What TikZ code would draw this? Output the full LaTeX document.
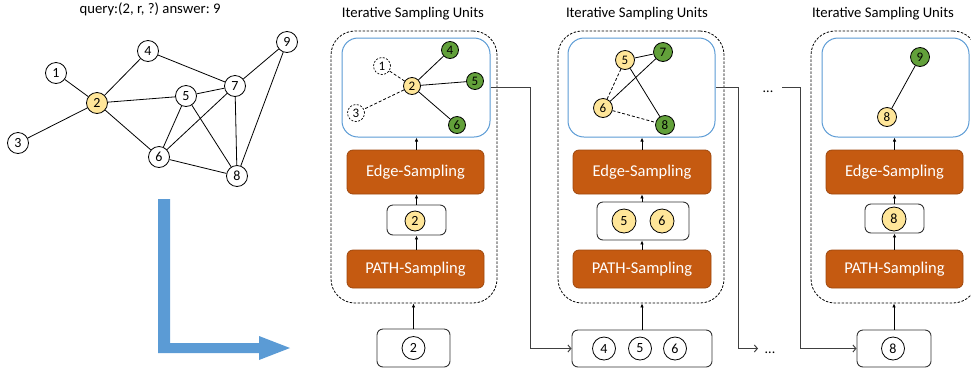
\documentclass[tikz,border=0pt]{standalone}
\usepackage{fontspec}
\setmainfont{Carlito}
\usetikzlibrary{arrows.meta}
\definecolor{nodeyellow}{RGB}{255,230,153}
\definecolor{nodegreen}{RGB}{98,160,58}
\definecolor{boxorange}{RGB}{197,90,17}
\definecolor{boxblue}{RGB}{91,155,213}
\definecolor{linegray}{RGB}{64,64,64}
\begin{document}
\frenchspacing
\begin{tikzpicture}[x=1pt,y=-1pt,
  every node/.style={font=\fontsize{14}{16}\selectfont, inner sep=0pt},
  gnode/.style={circle, draw=black, line width=0.8pt, minimum size=21pt, fill=white},
  snode/.style={circle, draw=black, line width=0.8pt, minimum size=17pt, fill=white, font=\fontsize{13}{15}\selectfont},
  bnode/.style={circle, draw=black, line width=0.8pt, minimum size=23pt, fill=white},
  ylw/.style={fill=nodeyellow},
  grn/.style={fill=nodegreen},
  ghost/.style={circle, draw=black, dashed, dash pattern=on 2pt off 1.5pt, line width=0.7pt, minimum size=17pt, font=\fontsize{13}{15}\selectfont},
  gedge/.style={line width=0.8pt, draw=black},
  dedge/.style={line width=0.8pt, draw=black, dash pattern=on 3pt off 2pt},
  unitbox/.style={draw=black, dash pattern=on 2.5pt off 1.5pt, line width=0.8pt, rounded corners=24pt, minimum width=166pt, minimum height=272pt},
  bluebox/.style={draw=boxblue, line width=1pt, rounded corners=16pt, fill=white},
  orangebox/.style={draw=boxorange!80!black, line width=0.8pt, fill=boxorange, rounded corners=6pt, text=white, font=\fontsize{16.5}{18}\selectfont},
  whitebox/.style={draw=black!80, line width=0.9pt, rounded corners=6pt, fill=white},
  title/.style={font=\fontsize{14.7}{17}\selectfont},
  vup/.style={line width=0.8pt, draw=black, -{Latex[length=4pt,width=3.5pt]}},
  link/.style={line width=1pt, draw=linegray, -{Straight Barb[length=3pt,width=7pt]}},
  plainlink/.style={line width=1pt, draw=linegray}
]
\useasboundingbox (0,0) rectangle (971,373);
\clip (0,0) rectangle (971,373);

% ---------- left graph ----------
\node[title] (query) at (150,9) {query:(2, r, ?) answer: 9};
\node[gnode] (g1) at (56,73) {1};
\node[gnode, ylw] (g2) at (97,103) {2};
\node[gnode] (g3) at (18,143) {3};
\node[gnode] (g4) at (148,51) {4};
\node[gnode] (g5) at (186,96) {5};
\node[gnode] (g6) at (159,157) {6};
\node[gnode] (g7) at (235,86) {7};
\node[gnode] (g8) at (237,176) {8};
\node[gnode] (g9) at (287,42) {9};
\foreach \a/\b in {g1/g2, g3/g2, g2/g4, g2/g5, g2/g6, g4/g7, g5/g7, g7/g9, g5/g6, g6/g7, g5/g8, g7/g8, g6/g8, g9/g8}
  \draw[gedge] (\a) -- (\b);

% ---------- blue L arrow ----------
\fill[boxblue] (158,199) -- (170,199) -- (170,343) -- (259,343) -- (259,336) -- (290,348)
  -- (259,360) -- (259,353) -- (158,353) -- cycle;

% ---------- unit 1 ----------
\node[title] (title1) at (413,14) {Iterative Sampling Units};
\node[unitbox] (dash1) at (414,167) {};
\node[bluebox, minimum width=148pt, minimum height=99pt] (blue1) at (416,87.5) {};
\node[orangebox, minimum width=137pt, minimum height=44pt] (edge1) at (415.5,172) {Edge-Sampling};
\node[whitebox, minimum width=59pt, minimum height=30pt] (mid1) at (416.5,220) {};
\node[orangebox, minimum width=137pt, minimum height=38pt] (path1) at (415.5,269) {PATH-Sampling};
\node[whitebox, minimum width=73pt, minimum height=38pt] (bot1) at (413.5,348) {};
\node[bnode, minimum size=20pt, ylw] (m1n2) at (415,221) {2};
\node[bnode] (b1n2) at (413.5,348) {2};
% inner graph
\node[snode, ylw] (u1n2) at (412,86) {2};
\node[ghost] (u1n1) at (382,66) {1};
\node[ghost] (u1n3) at (356,113) {3};
\node[snode, grn] (u1n4) at (450,50) {4};
\node[snode, grn] (u1n5) at (475,81) {5};
\node[snode, grn] (u1n6) at (457,125) {6};
\draw[gedge] (u1n2) -- (u1n4);
\draw[gedge] (u1n2) -- (u1n5);
\draw[gedge] (u1n2) -- (u1n6);
\draw[dedge] (u1n2) -- (u1n1);
\draw[dedge] (u1n2) -- (u1n3);
% arrows
\draw[vup] (bot1.north) -- (bot1.north |- dash1.south);
\draw[vup] (path1.north -| mid1) -- (mid1.south);
\draw[vup] (mid1.north) -- (mid1.north |- edge1.south);
\draw[vup] (edge1.north -| mid1) -- (mid1 |- blue1.south);

% ---------- unit 2 ----------
\node[title] (title2) at (637,14) {Iterative Sampling Units};
\node[unitbox] (dash2) at (641,167) {};
\node[bluebox, minimum width=147pt, minimum height=99pt] (blue2) at (641.5,87.5) {};
\node[orangebox, minimum width=138pt, minimum height=44pt] (edge2) at (642,172) {Edge-Sampling};
\node[whitebox, minimum width=92pt, minimum height=38pt] (mid2) at (643,221) {};
\node[orangebox, minimum width=138pt, minimum height=38pt] (path2) at (642,269) {PATH-Sampling};
\node[whitebox, minimum width=140pt, minimum height=37pt] (bot2) at (642,348.5) {};
\node[bnode, minimum size=24pt, ylw] (m2n5) at (624,221) {5};
\node[bnode, minimum size=24pt, ylw] (m2n6) at (662,221) {6};
\node[bnode] (b2n4) at (604,348.5) {4};
\node[bnode] (b2n5) at (640,348.5) {5};
\node[bnode] (b2n6) at (675,348.5) {6};
% inner graph
\node[snode, minimum size=19pt, ylw] (u2n5) at (625,60) {5};
\node[snode, minimum size=19pt, grn] (u2n7) at (663,52) {7};
\node[snode, minimum size=19pt, ylw] (u2n6) at (603,108) {6};
\node[snode, minimum size=19pt, grn] (u2n8) at (665,125) {8};
\draw[gedge] (u2n5) -- (u2n7);
\draw[gedge] (u2n6) -- (u2n7);
\draw[gedge] (u2n5) -- (u2n8);
\draw[dedge] (u2n5) -- (u2n6);
\draw[dedge] (u2n6) -- (u2n8);
% arrows
\draw[vup] (bot2.north) -- (bot2.north |- dash2.south);
\draw[vup] (path2.north) -- (path2.north |- mid2.south);
\draw[vup] (mid2.north -| path2) -- (path2.north |- edge2.south);
\draw[vup] (edge2.north) -- (edge2.north |- blue2.south);

% ---------- unit 3 ----------
\node[title] (title3) at (883,14) {Iterative Sampling Units};
\node[unitbox] (dash3) at (894,167) {};
\node[bluebox, minimum width=147pt, minimum height=99pt] (blue3) at (895.5,87.5) {};
\node[orangebox, minimum width=137pt, minimum height=44pt] (edge3) at (894.5,172) {Edge-Sampling};
\node[whitebox, minimum width=59pt, minimum height=29pt] (mid3) at (894.5,218.5) {};
\node[orangebox, minimum width=137pt, minimum height=38pt] (path3) at (894.5,269) {PATH-Sampling};
\node[whitebox, minimum width=74pt, minimum height=37pt] (bot3) at (894,348.5) {};
\node[bnode, minimum size=24pt, ylw] (m3n8) at (894,219) {8};
\node[bnode] (b3n8) at (893,348.5) {8};
% inner graph
\node[snode, minimum size=19pt, grn] (u3n9) at (920,57) {9};
\node[snode, minimum size=19pt, ylw] (u3n8) at (887,117) {8};
\draw[gedge] (u3n8) -- (u3n9);
% arrows
\draw[vup] (bot3.north) -- (bot3.north |- dash3.south);
\draw[vup] (path3.north) -- (path3.north |- mid3.south);
\draw[vup] (mid3.north) -- (mid3.north |- edge3.south);
\draw[vup] (edge3.north) -- (edge3.north |- blue3.south);

% ---------- connectors between units ----------
\draw[link] (blue1.east) -- ++(40,0) |- (bot2.west);
\coordinate (dotsin) at (758,348.5);
\draw[link] (blue2.east) -- ++(23,0) |- (dotsin);
\node[anchor=base] (dotsbot) at (770,353) {...};
\node[anchor=base] (dotstop) at (768,92) {...};
\coordinate (dotsout) at (782,87.5);
\draw[link] (dotsout) -- ++(18,0) |- (bot3.west);
\end{tikzpicture}
\end{document}
